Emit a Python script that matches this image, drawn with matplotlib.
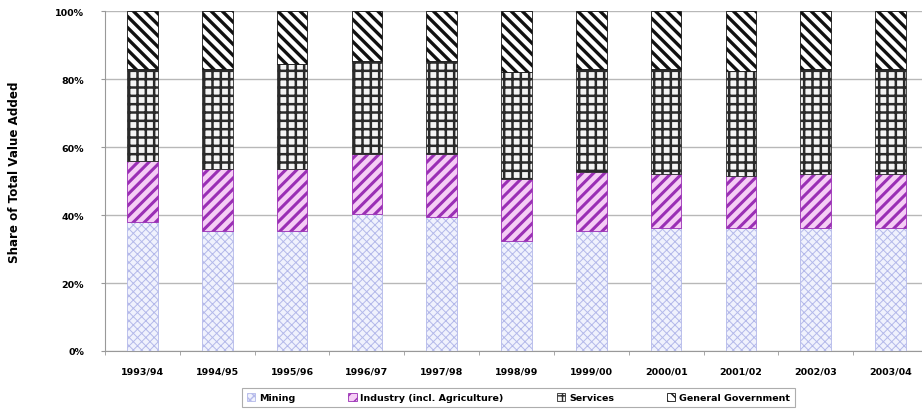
"""Stacked 100% bar chart: sector shares of total value added, 1993/94 - 2003/04."""

import numpy as np
import matplotlib
matplotlib.use("Agg")
import matplotlib.pyplot as plt
from matplotlib.ticker import FixedLocator, PercentFormatter

plt.rcParams["font.family"] = ["DejaVu Sans"]
plt.rcParams["font.weight"] = "bold"

years = ["1993/94", "1994/95", "1995/96", "1996/97", "1997/98", "1998/99",
         "1999/00", "2000/01", "2001/02", "2002/03", "2003/04"]
mining = [38.0, 35.3, 35.3, 40.3, 39.4, 32.4, 35.3, 36.2, 36.2, 36.2, 36.2]
industry = [17.9, 18.2, 18.2, 17.6, 18.5, 18.2, 17.3, 15.8, 15.3, 15.8, 15.8]
services = [27.0, 29.4, 30.9, 27.4, 27.4, 31.4, 30.3, 30.9, 30.9, 30.9, 30.9]
government = [17.1, 17.1, 15.6, 14.7, 14.7, 18.0, 17.1, 17.1, 17.6, 17.1, 17.1]

# name, values, fill, edge/hatch colour, hatch, hatch linewidth
series = [
    ("Mining", mining, "#f0f2fd", "#b4b9ea", "xxxx", 0.7),
    ("Industry (incl. Agriculture)", industry, "#f5cdf5", "#9a2fb5", "///", 2.2),
    ("Services", services, "#f4f4f4", "#2a2a2a", "++", 1.8),
    ("General Government", government, "#ffffff", "#111111", "\\\\\\", 2.4),
]

fig = plt.figure(figsize=(9.22, 4.10), dpi=100)
ax = fig.add_axes([105 / 922, 58 / 410, 823 / 922, 340 / 410])

x = np.arange(len(years))
bottom = np.zeros(len(years))
handles = []
for name, vals, face, edge, hatch, hlw in series:
    with plt.rc_context({"hatch.linewidth": hlw}):
        bars = ax.bar(x, vals, width=0.41, bottom=bottom, color=face,
                      edgecolor=edge, hatch=hatch, linewidth=0.6,
                      label=name, zorder=3)
    handles.append(bars)
    bottom += np.array(vals)

ax.set_xlim(-0.5, len(years) - 0.5)
ax.set_ylim(0, 100)
ax.yaxis.set_major_locator(FixedLocator([0, 20, 40, 60, 80, 100]))
ax.yaxis.set_major_formatter(PercentFormatter(decimals=0))
ax.grid(axis="y", color="#b8b8b8", linewidth=1.0, zorder=0)

ax.set_xticks(x)
ax.set_xticklabels(years, fontsize=6.8, fontweight="bold")
ax.set_xticks(np.arange(-0.5, len(years)), minor=True)
ax.tick_params(axis="x", which="major", length=0, pad=11)
ax.tick_params(axis="x", which="minor", length=3, color="#999999")
ax.tick_params(axis="y", length=3, color="#999999", labelsize=6.8, pad=12)
for lab in ax.get_yticklabels():
    lab.set_fontweight("bold")

for side in ["top", "right"]:
    ax.spines[side].set_visible(False)
for side in ["left", "bottom"]:
    ax.spines[side].set_color("#999999")

fig.text(15 / 922, 1 - 172 / 410, "Share of Total Value Added", rotation=90,
         ha="center", va="center", fontsize=8.6, fontweight="bold")

leg = fig.legend(handles=handles, loc="lower left",
                 bbox_to_anchor=(242 / 922, 2 / 410), ncol=4,
                 fontsize=6.8, frameon=True, fancybox=False,
                 handlelength=0.9, handleheight=0.9, handletextpad=0.4,
                 columnspacing=5.6, borderpad=0.5, borderaxespad=0)
leg.get_frame().set_edgecolor("#999999")
leg.get_frame().set_linewidth(0.8)

fig.savefig("out.png", dpi=100)
